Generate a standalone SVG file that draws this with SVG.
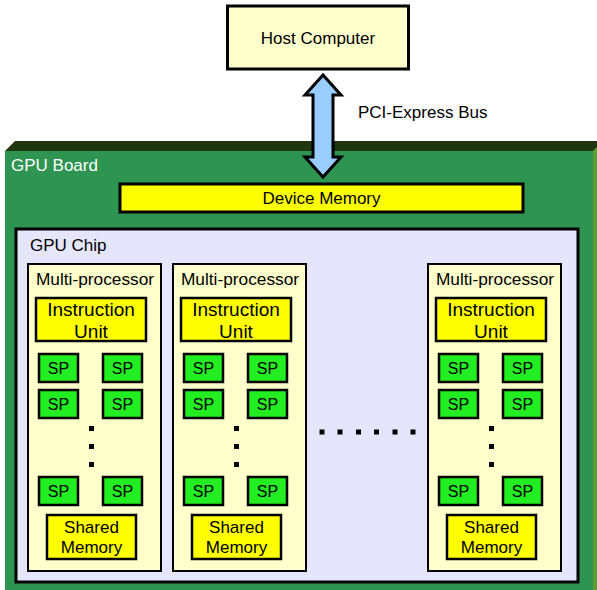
<svg xmlns="http://www.w3.org/2000/svg" width="597" height="590" viewBox="0 0 597 590">
<style>
text{font-family:"Liberation Sans",Arial,sans-serif;fill:#000}
.t17{font-size:17px}
.mpt{font-size:17.3px}
.iu{font-size:19px}
.spt{font-size:16px}
.mp{fill:#ffffcc;stroke:#000;stroke-width:2}
.inst{fill:#ffff00;stroke:#000;stroke-width:2.5}
.spb{fill:#22ee22;stroke:#000;stroke-width:2.5}
.shm{fill:#ffff00;stroke:#000;stroke-width:2.5}
.dot{fill:#000}
</style>
<g id="board">
<polygon points="5,151 15,141 597,141 597,151" fill="#1f3610"/>
<rect x="5" y="151" width="588" height="439" fill="#2e9452"/>
<polygon points="593,151 597,147 597,590 593,590" fill="#5aa02c"/>
<text x="11" y="171" class="t17" style="fill:#fff">GPU Board</text>
</g>
<g id="host">
<rect x="227.5" y="6" width="181" height="63" fill="#ffffcc" stroke="#000" stroke-width="3"/>
<text x="318" y="44" class="t17" text-anchor="middle">Host Computer</text>
</g>
<g id="connectors">
<polygon points="323,75 341,95 333,95 333,157 341,157 323,177 305,157 313,157 313,95 305,95" fill="#99ccff" stroke="#000" stroke-width="3" stroke-linejoin="miter"/>
<text x="358" y="118" class="t17">PCI-Express Bus</text>
</g>
<g id="devmem">
<rect x="120" y="184" width="403" height="28" fill="#ffff00" stroke="#000" stroke-width="3"/>
<text x="321.5" y="204" class="t17" text-anchor="middle">Device Memory</text>
</g>
<g id="chip">
<rect x="16" y="229" width="562" height="353" fill="#e5e5fb" stroke="#000" stroke-width="3"/>
<text x="30" y="251" class="t17">GPU Chip</text>
<g class="dot"><rect x="319.5" y="429.5" width="5" height="5"/><rect x="337.5" y="429.5" width="5" height="5"/><rect x="356" y="429.5" width="5" height="5"/><rect x="374" y="429.5" width="5" height="5"/><rect x="392.5" y="429.5" width="5" height="5"/><rect x="410.5" y="429.5" width="5" height="5"/></g>
</g>
<g id="mp1" transform="translate(28,0)">
<rect class="mp" x="0" y="264" width="133" height="307"/>
<text x="67" y="285" class="mpt" text-anchor="middle">Multi-processor</text>
<rect class="inst" x="8" y="298" width="110" height="43"/>
<text x="63" y="316" class="iu" text-anchor="middle">Instruction</text>
<text x="63" y="338" class="iu" text-anchor="middle">Unit</text>
<rect class="spb" x="11" y="354" width="39" height="28"/><text x="30.5" y="374" class="spt" text-anchor="middle">SP</text>
<rect class="spb" x="75" y="354" width="39" height="28"/><text x="94.5" y="374" class="spt" text-anchor="middle">SP</text>
<rect class="spb" x="11" y="390" width="39" height="28"/><text x="30.5" y="410" class="spt" text-anchor="middle">SP</text>
<rect class="spb" x="75" y="390" width="39" height="28"/><text x="94.5" y="410" class="spt" text-anchor="middle">SP</text>
<rect class="dot" x="61" y="426" width="5" height="5"/><rect class="dot" x="61" y="444" width="5" height="5"/><rect class="dot" x="61" y="462" width="5" height="5"/>
<rect class="spb" x="11" y="477" width="39" height="28"/><text x="30.5" y="497" class="spt" text-anchor="middle">SP</text>
<rect class="spb" x="75" y="477" width="39" height="28"/><text x="94.5" y="497" class="spt" text-anchor="middle">SP</text>
<rect class="shm" x="19" y="515" width="89" height="44"/>
<text x="63.5" y="533" class="t17" text-anchor="middle">Shared</text>
<text x="63.5" y="553" class="t17" text-anchor="middle">Memory</text>
</g>
<g id="mp2" transform="translate(173,0)">
<rect class="mp" x="0" y="264" width="133" height="307"/>
<text x="67" y="285" class="mpt" text-anchor="middle">Multi-processor</text>
<rect class="inst" x="8" y="298" width="110" height="43"/>
<text x="63" y="316" class="iu" text-anchor="middle">Instruction</text>
<text x="63" y="338" class="iu" text-anchor="middle">Unit</text>
<rect class="spb" x="11" y="354" width="39" height="28"/><text x="30.5" y="374" class="spt" text-anchor="middle">SP</text>
<rect class="spb" x="75" y="354" width="39" height="28"/><text x="94.5" y="374" class="spt" text-anchor="middle">SP</text>
<rect class="spb" x="11" y="390" width="39" height="28"/><text x="30.5" y="410" class="spt" text-anchor="middle">SP</text>
<rect class="spb" x="75" y="390" width="39" height="28"/><text x="94.5" y="410" class="spt" text-anchor="middle">SP</text>
<rect class="dot" x="61" y="426" width="5" height="5"/><rect class="dot" x="61" y="444" width="5" height="5"/><rect class="dot" x="61" y="462" width="5" height="5"/>
<rect class="spb" x="11" y="477" width="39" height="28"/><text x="30.5" y="497" class="spt" text-anchor="middle">SP</text>
<rect class="spb" x="75" y="477" width="39" height="28"/><text x="94.5" y="497" class="spt" text-anchor="middle">SP</text>
<rect class="shm" x="19" y="515" width="89" height="44"/>
<text x="63.5" y="533" class="t17" text-anchor="middle">Shared</text>
<text x="63.5" y="553" class="t17" text-anchor="middle">Memory</text>
</g>
<g id="mp3" transform="translate(428,0)">
<rect class="mp" x="0" y="264" width="133" height="307"/>
<text x="67" y="285" class="mpt" text-anchor="middle">Multi-processor</text>
<rect class="inst" x="8" y="298" width="110" height="43"/>
<text x="63" y="316" class="iu" text-anchor="middle">Instruction</text>
<text x="63" y="338" class="iu" text-anchor="middle">Unit</text>
<rect class="spb" x="11" y="354" width="39" height="28"/><text x="30.5" y="374" class="spt" text-anchor="middle">SP</text>
<rect class="spb" x="75" y="354" width="39" height="28"/><text x="94.5" y="374" class="spt" text-anchor="middle">SP</text>
<rect class="spb" x="11" y="390" width="39" height="28"/><text x="30.5" y="410" class="spt" text-anchor="middle">SP</text>
<rect class="spb" x="75" y="390" width="39" height="28"/><text x="94.5" y="410" class="spt" text-anchor="middle">SP</text>
<rect class="dot" x="61" y="426" width="5" height="5"/><rect class="dot" x="61" y="444" width="5" height="5"/><rect class="dot" x="61" y="462" width="5" height="5"/>
<rect class="spb" x="11" y="477" width="39" height="28"/><text x="30.5" y="497" class="spt" text-anchor="middle">SP</text>
<rect class="spb" x="75" y="477" width="39" height="28"/><text x="94.5" y="497" class="spt" text-anchor="middle">SP</text>
<rect class="shm" x="19" y="515" width="89" height="44"/>
<text x="63.5" y="533" class="t17" text-anchor="middle">Shared</text>
<text x="63.5" y="553" class="t17" text-anchor="middle">Memory</text>
</g>
</svg>
